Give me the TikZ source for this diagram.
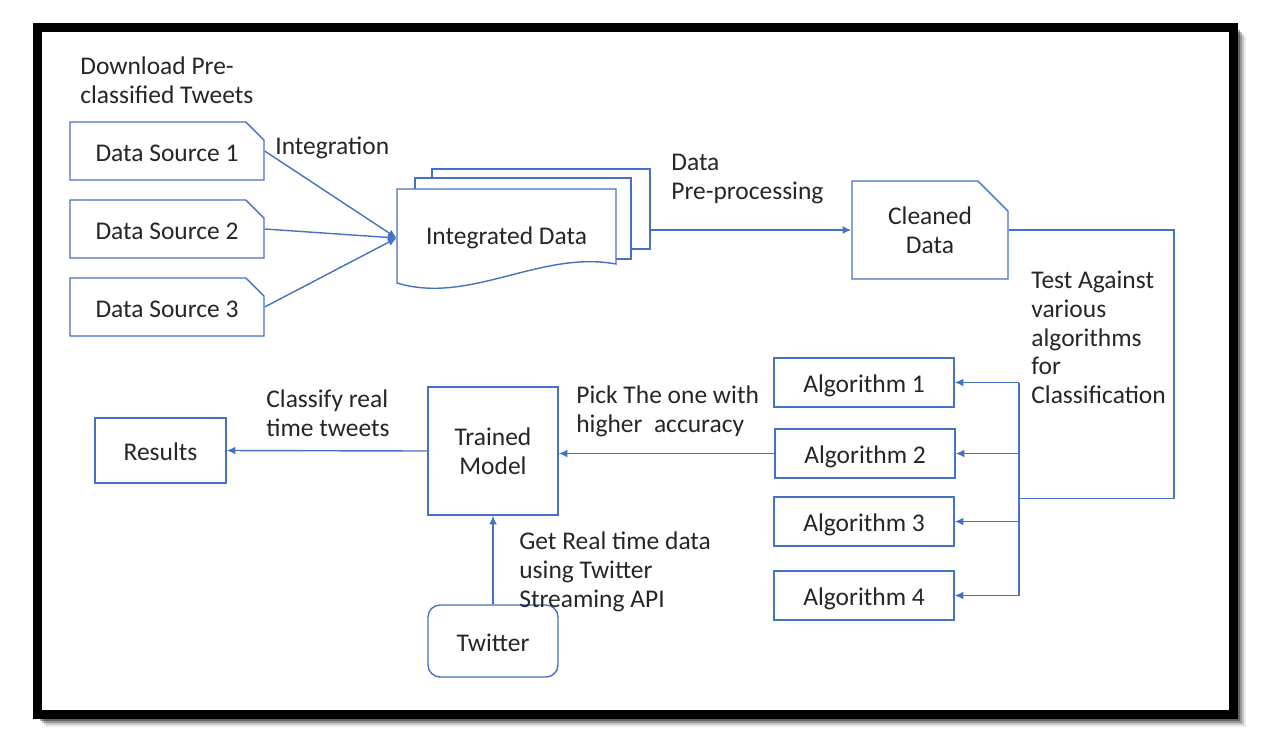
\documentclass[tikz,border=0pt]{standalone}
\usepackage{fontspec}
\setmainfont{Carlito}
\usetikzlibrary{arrows.meta, positioning, shapes.misc}
\definecolor{oblue}{RGB}{68,114,196}
\definecolor{otext}{RGB}{38,38,38}
\newcommand\dfont{\fontsize{14.5}{16.4}\selectfont}

\begin{document}
\begin{tikzpicture}[x=0.02cm, y=-0.02cm,
  box/.style={rectangle,draw=oblue,line width=0.8pt,fill=white,font=\dfont,
              text=otext,inner sep=2pt,align=center},
  box1/.style={box,text height=14.5pt,text depth=2.9pt},
  snip/.style={chamfered rectangle,chamfered rectangle corners=north east},
  page/.style={rectangle,draw=oblue,line width=0.8pt,fill=white},
  lbl/.style={anchor=west,align=left,inner sep=0pt,font=\dfont,text=otext},
  arr/.style={-{Latex[length=5pt,width=4.5pt]},oblue,line width=0.8pt},
  wire/.style={oblue,line width=0.8pt}
]
\useasboundingbox (0,0) rectangle (1283,748);

% ── Frame ───────────────────────────────────────────────
\foreach \d/\o in {2/0.35,4/0.25,6/0.15,8/0.08}
  \draw[line width=5.1pt,black,opacity=\o]
    (1233.5+\d,27.5+\d) -- (1233.5+\d,714.5+\d) -- (37.5+\d,714.5+\d);
\draw[line width=5.1pt,black] (37.5,27.5) rectangle (1233.5,714.5);

% ── Sources ─────────────────────────────────────────────
\node[lbl] (lblDown) at (80,80.5) {Download Pre-\\classified Tweets};
\node[box1,snip,minimum width=3.88cm,minimum height=1.16cm,
      chamfered rectangle xsep=0.18cm,chamfered rectangle ysep=0.18cm] (src1) at (167,151) {Data Source 1};
\node[box1,snip,minimum width=3.88cm,minimum height=1.16cm,
      chamfered rectangle xsep=0.18cm,chamfered rectangle ysep=0.18cm] (src2) at (167,229) {Data Source 2};
\node[box1,snip,minimum width=3.88cm,minimum height=1.16cm,
      chamfered rectangle xsep=0.18cm,chamfered rectangle ysep=0.18cm] (src3) at (167,307) {Data Source 3};

% ── Integrated data (stack of pages) ────────────────────
\node[page,minimum width=4.36cm,minimum height=1.6cm] (integ3) at (541,209) {};
\node[page,minimum width=4.32cm,minimum height=1.62cm] (integ2) at (523,218.5) {};
\draw[wire,fill=white] (397,189) -- (616,189) -- (616,264)
  .. controls (540,250) and (470,305) .. (397,283) -- cycle;
\node[font=\dfont,text=otext,minimum width=4.38cm,minimum height=1.6cm] (integ) at (506.5,238) {Integrated Data};
\node[lbl] (lblInt) at (275,148) {Integration};
\draw[arr] (src1.east) -- (integ.west);
\draw[arr] (src2.east) -- (integ.west);
\draw[arr] (src3.east) -- (integ.west);

% ── Cleaned data ────────────────────────────────────────
\node[box,snip,minimum width=3.12cm,minimum height=1.96cm,
      chamfered rectangle xsep=0.3cm,chamfered rectangle ysep=0.3cm] (clean) at (930,230) {Cleaned\\Data};
\node[lbl] (lblPre) at (671,179) {Data\\Pre-processing};
\draw[arr] (integ3.east |- clean.west) -- (clean.west);

% ── Algorithms ──────────────────────────────────────────
\node[box1,minimum width=3.6cm,minimum height=0.98cm] (alg1) at (864,382.5) {Algorithm 1};
\node[box1,minimum width=3.6cm,minimum height=0.98cm] (alg2) at (865,453.5) {Algorithm 2};
\node[box1,minimum width=3.6cm,minimum height=0.98cm] (alg3) at (864,521.5) {Algorithm 3};
\node[box1,minimum width=3.6cm,minimum height=0.98cm] (alg4) at (864,595.5) {Algorithm 4};
\node[lbl] (lblTest) at (1031,337.5) {Test Against\\various\\algorithms\\for\\Classification};
\coordinate (bend)  at (1174,498.5);
\coordinate (split) at (1019,498.5);
\draw[wire] (clean.east) -| (bend) -- (split);
\draw[wire] (split |- alg1.east) -- (split |- alg4.east);
\draw[arr] (split |- alg1.east) -- (alg1.east);
\draw[arr] (split |- alg2.east) -- (alg2.east);
\draw[arr] (split |- alg3.east) -- (alg3.east);
\draw[arr] (split |- alg4.east) -- (alg4.east);

% ── Model, results, twitter ─────────────────────────────
\node[box,minimum width=2.6cm,minimum height=2.56cm] (model) at (493,451) {Trained\\Model};
\node[box1,minimum width=2.62cm,minimum height=1.3cm] (res) at (160.5,450.5) {Results};
\node[box1,rounded corners=0.24cm,minimum width=2.6cm,minimum height=1.44cm] (tw) at (493,641) {Twitter};
\node[lbl] (lblPick) at (576,411.5) {Pick The one with\\higher\ \ accuracy};
\node[lbl] (lblCls) at (266,413.5) {Classify real\\time tweets};
\node[lbl] (lblGet) at (519,572) {Get Real time data\\using Twitter\\Streaming API};
\draw[arr] (alg2.west) -- (alg2.west -| model.east);
\draw[arr] (model.west) -- (res.east);
\draw[arr] (tw.north) -- (model.south);

\end{tikzpicture}
\end{document}
